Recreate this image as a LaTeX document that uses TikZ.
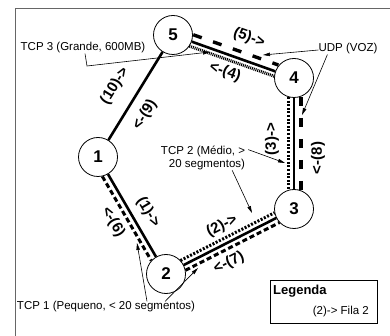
\documentclass[tikz,border=0pt]{standalone}
\usepackage{fontspec}
\setmainfont{Liberation Sans}
\usetikzlibrary{calc,arrows.meta}

\tikzset{
    router/.style={circle, draw, line width=0.8pt, fill=white, minimum size=39pt, inner sep=0pt, font=\fontsize{17}{17}\selectfont\bfseries},
    link/.style={line width=2.6pt},
    udp/.style={line width=3.4pt, dash pattern=on 9pt off 12pt},
    tcpone/.style={line width=3pt, dash pattern=on 5pt off 3pt},
    tcptwo/.style={line width=3pt, dash pattern=on 2pt off 1.6pt},
    tcpthree/.style={line width=3pt, dash pattern=on 1pt off 0.9pt},
    qlabel/.style={font=\fontsize{15}{15}\selectfont\bfseries, inner sep=0pt},
    note/.style={font=\fontsize{11.5}{13.5}\selectfont, inner sep=0pt},
    pointer/.style={line width=0.6pt, -{Triangle[length=7pt, width=3.5pt]}},
}

\begin{document}
\begin{tikzpicture}[x=1pt, y=-1pt]
    \useasboundingbox (0, 0) rectangle (390, 336);
    \draw[line width=1pt, black!60] (15, 336) -- (15, 9) -- (390, 9);

    % routers
    \node[router] (n5) at (173, 35) {5};
    \node[router] (n4) at (294, 78) {4};
    \node[router] (n1) at (98, 157) {1};
    \node[router] (n3) at (294, 209) {3};
    \node[router] (n2) at (166, 274) {2};

    % links
    \draw[link] (n1) -- (n5);
    \draw[link] (n5) -- (n4);
    \draw[link] (n4) -- (n3);
    \draw[link] (n2) -- (n3);
    \draw[link] (n1) -- (n2);

    % flows beside the links
    \draw[udp] ($(n5)!19pt!(n4)!7pt!90:(n4)$) -- ($(n4)!19pt!(n5)!7pt!-90:(n5)$);
    \draw[tcpthree] ($(n5)!19pt!(n4)!5pt!-90:(n4)$) -- ($(n4)!19pt!(n5)!5pt!90:(n5)$);
    \draw[udp] ($(n4)!19pt!(n3)!7pt!90:(n3)$) -- ($(n3)!19pt!(n4)!7pt!-90:(n4)$);
    \draw[tcptwo] ($(n4)!19pt!(n3)!6pt!-90:(n3)$) -- ($(n3)!19pt!(n4)!6pt!90:(n4)$);
    \draw[tcptwo] ($(n2)!19pt!(n3)!5.5pt!90:(n3)$) -- ($(n3)!19pt!(n2)!5.5pt!-90:(n2)$);
    \draw[tcpone] ($(n2)!19pt!(n3)!5.5pt!-90:(n3)$) -- ($(n3)!19pt!(n2)!5.5pt!90:(n2)$);
    \draw[tcpone] ($(n1)!19pt!(n2)!6pt!-90:(n2)$) -- ($(n2)!19pt!(n1)!6pt!90:(n1)$);

    % queue labels
    \node[qlabel, rotate=58.4] (q10) at (115, 86) {(10)->};
    \node[qlabel, rotate=58.4] (q9) at (145, 115) {<-(9)};
    \node[qlabel, rotate=-19.6] (q5) at (249, 38) {(5)->};
    \node[qlabel, rotate=-19.6] (q4) at (225, 72) {<-(4)};
    \node[qlabel, rotate=90] (q3) at (272, 139) {(3)->};
    \node[qlabel, rotate=90] (q8) at (318, 158) {<-(8)};
    \node[qlabel, rotate=27] (q2) at (222, 226) {(2)->};
    \node[qlabel, rotate=27] (q7) at (229, 263) {<-(7)};
    \node[qlabel, rotate=-59.8] (q1) at (148, 212) {(1)->};
    \node[qlabel, rotate=-59.8] (q6) at (113, 222) {<-(6)};

    % notes
    \node[note] (tcp3) at (83, 48) {TCP 3 (Grande, 600MB)};
    \node[note] (udp) at (348, 49) {UDP (VOZ)};
    \node[note, align=right] (tcp2) at (203, 158) {TCP 2 (Médio, >\\20 segmentos)};
    \node[note] (tcp1) at (106, 307) {TCP 1 (Pequeno, < 20 segmentos)};

    \coordinate (t3bend) at (87, 66);
    \coordinate (t3tip) at (210, 52);
    \coordinate (udptipa) at (263, 55);
    \coordinate (udptipb) at (302, 115);
    \coordinate (t2tipa) at (285, 163);
    \coordinate (t2tipb) at (252, 213);
    \coordinate (t1tipa) at (137, 243);
    \coordinate (t1tipb) at (198, 268);

    \draw[pointer] ([xshift=2pt]tcp3.south) -- (t3bend) -- (t3tip);
    \draw[pointer] ([yshift=-1pt]udp.west) -- (udptipa);
    \draw[pointer] ([xshift=9pt]udp.south west) -- (udptipb);
    \draw[pointer] ([xshift=3pt, yshift=-4pt]tcp2.north east) -- (t2tipa);
    \draw[pointer] ([xshift=-13pt]tcp2.south east) -- (t2tipb);
    \draw[pointer] ([xshift=41pt]tcp1.north) -- (t1tipa);
    \draw[pointer] ([xshift=59pt]tcp1.north) -- (t1tipb);

    % legend
    \node[draw, line width=0.8pt, minimum width=107pt, minimum height=43pt] (legend) at (323.5, 301.5) {};
    \node[anchor=west, inner sep=0pt, font=\fontsize{13}{13}\selectfont\bfseries] (legtitle) at (273, 291) {Legenda};
    \node[note, anchor=east] (legitem) at (369, 312) {(2)-> Fila 2};
\end{tikzpicture}
\end{document}
